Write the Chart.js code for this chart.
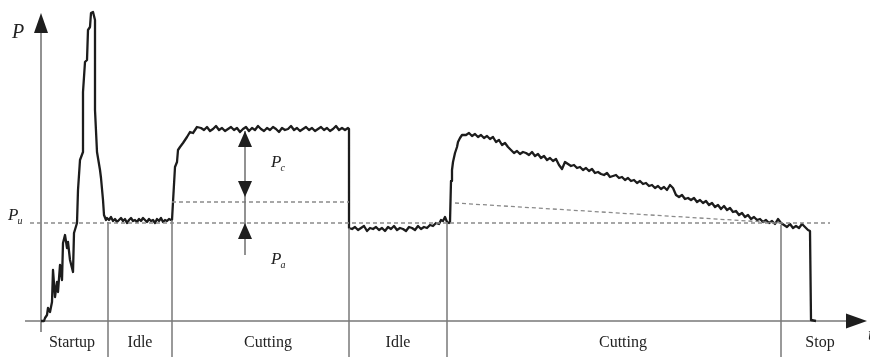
<!DOCTYPE html>
<html>
<head>
<meta charset="utf-8">
<script src="https://cdn.jsdelivr.net/npm/chart.js@4/dist/chart.umd.min.js"></script>
<style>
html,body{margin:0;padding:0;background:#fff;}
#wrap{width:870px;height:359px;position:relative;}
</style>
</head>
<body>
<div id="wrap"><canvas id="c"></canvas></div>
<script>
// ---- Data (time t in s, power P in arbitrary units) ----
const startupT = [0,3,4,6,7,9,11,12,14,16,17,19,21,22,24,26,27,29,32,33,36,37,39,42,42,42,44,46,47,49,50,52,54,54,56,59,60,62,63,65];
const startupP = [0,0,3,6,13,9,19,51,24,39,29,56,41,78,86,73,79,61,49,88,98,131,161,169,198,229,259,261,291,294,308,309,301,211,169,151,143,121,106,101];

const idle1Start = 66, idle1Step = 2;
const idle1P = [103,101,104,100,102,99,101,103,100,102,98,101,103,100,101,99,102,100,103,101,99,102,100,101,98,102,100,103,99,101,100,102,101];

const cut1RiseT = [131,132,134,136,137,139,142,146,149,152,156];
const cut1RiseP = [101,119,154,159,171,174,178,184,189,188,194];

const cut1Start = 160, cut1Step = 3;
const cut1P = [193,191,194,190,192,195,191,193,190,192,
               194,191,193,189,192,194,190,193,191,195,
               192,190,193,191,194,192,189,193,191,192,
               195,191,193,190,192,194,191,193,190,192,
               194,191,193,190,192,195,191,193,191,193];

const cut1DropT = [308,308];
const cut1DropP = [192,93];

const idle2Start = 311, idle2Step = 3;
const idle2P = [92,94,91,93,95,90,93,92,94,91,
                93,90,94,92,95,91,93,92,90,94,
                93,91,95,92,94,93,96,95,98,97];

const cut2RiseT = [400,402,404,406,408,409,410,411,412,414,416,417,419,421];
const cut2RiseP = [101,100,104,99,98,99,140,151,159,168,174,179,183,186];

const cut2Start = 425, cut2Step = 3;
const cut2P = [186,188,185,187,184,186,183,185,182,184,
               179,181,176,178,174,171,168,170,167,169,
               168,166,169,165,167,163,165,161,163,160,
               162,156,152,159,157,155,156,153,154,151,
               153,150,152,148,149,147,146,148,144,145,
               146,143,144,141,143,140,141,138,140,137,
               138,135,136,133,135,132,134,131,136,133,
               126,124,126,122,123,121,123,119,121,118,
               120,116,118,114,116,112,115,111,113,109,
               110,106,108,104,106,102,104,101,102,99,
               101,98,100,97,102,98,96,94,97,93,
               95,93,97,94,91];

const stopT = [769,770,775];
const stopP = [90,1,0];

// reference levels
const Pu = 98;          // idle power level
const PaLevel = 119;    // Pu + Pa
const slopeT = [414,740];
const slopeP = [118,98];
const PuLineT = [-11,789];
const PaLineT = [131,308];

// phases
const phaseLabels = ["Startup","Idle","Cutting","Idle","Cutting","Stop"];
const phaseCenters = [31,99,227,357,582,779];
const phaseBounds = [67,131,308,406,740];
const boundTop = [99,101,93,99,96];
const boundBottom = -36;

// arrow annotation (Pc / Pa)
const arrowT = 204;
const PcTop = 190, PcBottom = 124;
const PaTip = 98, PaTail = 66;

// ---- build series ----
function seg(ts, ps){ return ts.map((t,i)=>({x:t,y:ps[i]})); }
function sampled(start, step, ps){ return ps.map((p,i)=>({x:start+i*step,y:p})); }

const curve = [].concat(
  seg(startupT, startupP),
  sampled(idle1Start, idle1Step, idle1P),
  seg(cut1RiseT, cut1RiseP),
  sampled(cut1Start, cut1Step, cut1P),
  seg(cut1DropT, cut1DropP),
  sampled(idle2Start, idle2Step, idle2P),
  seg(cut2RiseT, cut2RiseP),
  sampled(cut2Start, cut2Step, cut2P),
  seg(stopT, stopP)
);

const sepData = [];
phaseBounds.forEach((t,i)=>{
  sepData.push({x:t,y:boundTop[i]},{x:t,y:boundBottom},{x:t,y:null});
});

const dashStyle = {borderColor:'#8a8a8a', borderWidth:1.3, borderDash:[4,3], pointRadius:0, fill:false, tension:0};

const annot = {
  id:'annot',
  beforeDatasetsDraw(chart){
    const ctx = chart.ctx, xs = chart.scales.x, ys = chart.scales.y;
    const X = v=>xs.getPixelForValue(v), Y = v=>ys.getPixelForValue(v);
    ctx.save();
    ctx.strokeStyle = '#777';
    ctx.lineWidth = 1.6;
    ctx.beginPath(); ctx.moveTo(X(0), Y(-11)); ctx.lineTo(X(0), Y(292)); ctx.stroke();
    ctx.beginPath(); ctx.moveTo(X(-16), Y(0)); ctx.lineTo(X(808), Y(0)); ctx.stroke();
    ctx.fillStyle = '#1e1e1e';
    ctx.beginPath(); ctx.moveTo(X(0), Y(308)); ctx.lineTo(X(0)-7, Y(288)); ctx.lineTo(X(0)+7, Y(288)); ctx.closePath(); ctx.fill();
    ctx.beginPath(); ctx.moveTo(X(826), Y(0)); ctx.lineTo(X(805), Y(0)-7.5); ctx.lineTo(X(805), Y(0)+7.5); ctx.closePath(); ctx.fill();
    ctx.restore();
  },
  afterDatasetsDraw(chart){
    const ctx = chart.ctx, xs = chart.scales.x, ys = chart.scales.y;
    const X = v=>xs.getPixelForValue(v), Y = v=>ys.getPixelForValue(v);
    ctx.save();
    const ax = X(arrowT);
    ctx.strokeStyle = '#777'; ctx.lineWidth = 1.6;
    ctx.beginPath(); ctx.moveTo(ax, Y(PcTop)); ctx.lineTo(ax, Y(PaTail)); ctx.stroke();
    ctx.fillStyle = '#1e1e1e';
    function tri(tipY, dir){
      ctx.beginPath(); ctx.moveTo(ax, tipY); ctx.lineTo(ax-7, tipY - dir*16); ctx.lineTo(ax+7, tipY - dir*16); ctx.closePath(); ctx.fill();
    }
    tri(Y(PcTop), -1);
    tri(Y(PcBottom), 1);
    tri(Y(PaTip), -1);

    ctx.fillStyle = '#222';
    ctx.font = '16px "Liberation Serif", "DejaVu Serif", serif';
    ctx.textAlign = 'center'; ctx.textBaseline = 'alphabetic';
    phaseLabels.forEach((l,i)=>{ ctx.fillText(l, X(phaseCenters[i]), Y(0)+26); });

    function sym(main, sub, x, y, size){
      ctx.textAlign = 'left';
      ctx.font = 'italic ' + size + 'px "Liberation Serif", serif';
      ctx.fillText(main, x, y);
      const w = ctx.measureText(main).width;
      ctx.font = 'italic ' + Math.round(size*0.6) + 'px "Liberation Serif", serif';
      ctx.fillText(sub, x + w - 1, y + 4);
    }
    ctx.font = 'italic 20px "Liberation Serif", serif'; ctx.textAlign='left';
    ctx.fillText('P', X(-29), Y(283));
    sym('P', 'u', X(-33), Y(Pu)-3, 17);
    sym('P', 'c', X(230), Y(154), 17);
    sym('P', 'a', X(230), Y(57), 17);
    ctx.font = 'italic 18px "Liberation Serif", serif'; ctx.textAlign='left';
    ctx.fillText('t', X(827), Y(0)+19);
    ctx.restore();
  }
};

new Chart(document.getElementById('c'), {
  type: 'line',
  data: {
    datasets: [
      Object.assign({data: PuLineT.map(t=>({x:t,y:Pu}))}, dashStyle),
      Object.assign({data: PaLineT.map(t=>({x:t,y:PaLevel}))}, dashStyle),
      Object.assign({data: seg(slopeT, slopeP)}, dashStyle),
      {data: sepData, borderColor:'#7a7a7a', borderWidth:1.5, pointRadius:0, spanGaps:false, fill:false, tension:0},
      {data: curve, borderColor:'#1c1c1c', borderWidth:2.3, pointRadius:0, fill:false, tension:0, borderJoinStyle:'round'}
    ]
  },
  options: {
    responsive: true,
    maintainAspectRatio: false,
    animation: false,
    layout: {padding: 0},
    plugins: {legend:{display:false}, tooltip:{enabled:false}},
    events: [],
    scales: {
      x: {type:'linear', min:-41, max:829, display:false},
      y: {type:'linear', min:-38, max:321, display:false}
    }
  },
  plugins: [annot]
});
</script>
</body>
</html>
